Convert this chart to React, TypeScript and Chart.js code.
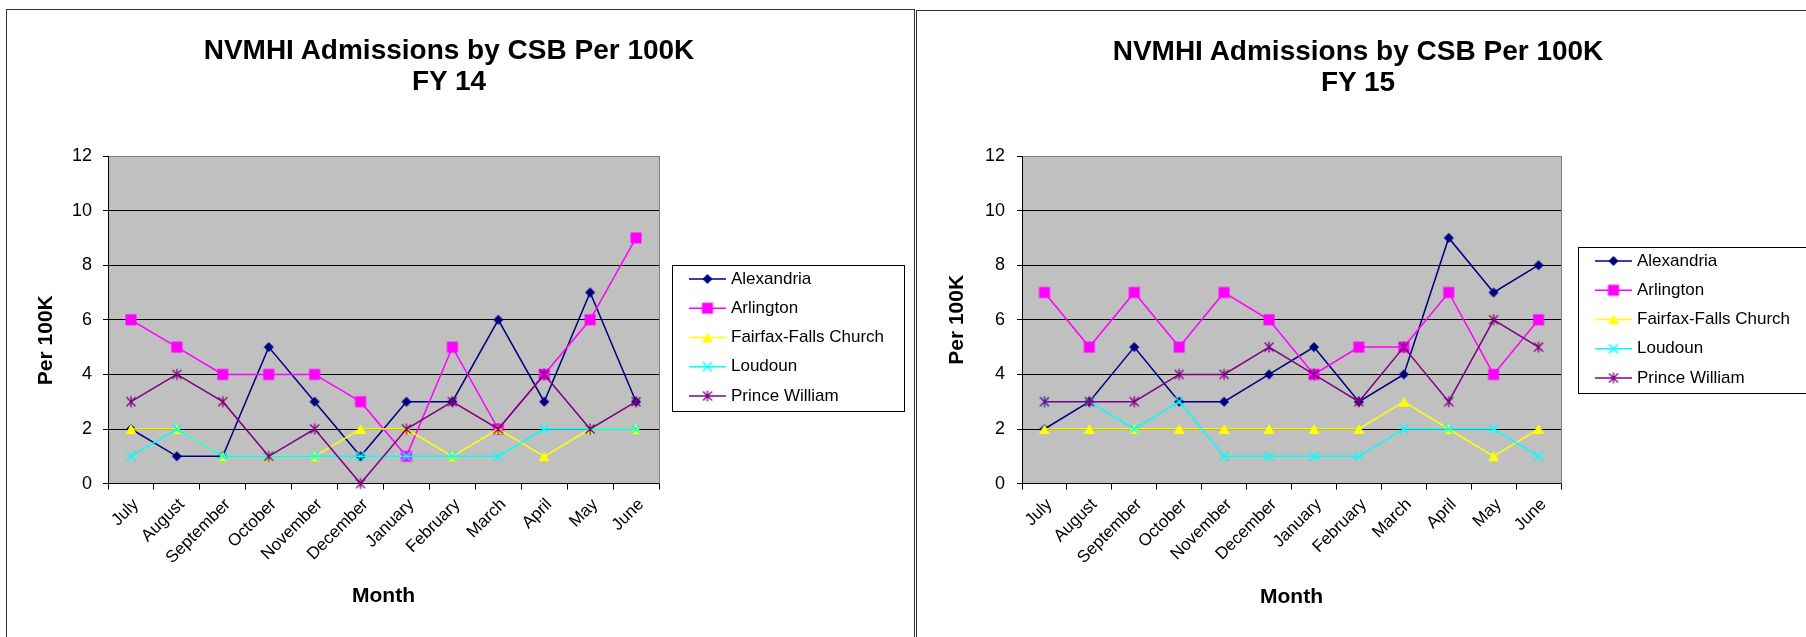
import React, { useEffect, useRef } from 'react';
import { Chart, registerables } from 'chart.js';

Chart.register(...registerables);

const months = ['July', 'August', 'September', 'October', 'November', 'December', 'January', 'February', 'March', 'April', 'May', 'June'];
const seriesNames = ['Alexandria', 'Arlington', 'Fairfax-Falls Church', 'Loudoun', 'Prince William'];
const seriesColors = ['#000080', '#FF00FF', '#FFFF00', '#00FFFF', '#800080'];
const markerShapes = ['diamond', 'square', 'triangle', 'x', 'star'];

const fy14Alexandria = [2, 1, 1, 5, 3, 1, 3, 3, 6, 3, 7, 3];
const fy14Arlington = [6, 5, 4, 4, 4, 3, 1, 5, 2, 4, 6, 9];
const fy14Fairfax = [2, 2, 1, 1, 1, 2, 2, 1, 2, 1, 2, 2];
const fy14Loudoun = [1, 2, 1, 1, 1, 1, 1, 1, 1, 2, 2, 2];
const fy14PrinceWilliam = [3, 4, 3, 1, 2, 0, 2, 3, 2, 4, 2, 3];

const fy15Alexandria = [2, 3, 5, 3, 3, 4, 5, 3, 4, 9, 7, 8];
const fy15Arlington = [7, 5, 7, 5, 7, 6, 4, 5, 5, 7, 4, 6];
const fy15Fairfax = [2, 2, 2, 2, 2, 2, 2, 2, 3, 2, 1, 2];
const fy15Loudoun = [3, 3, 2, 3, 1, 1, 1, 1, 2, 2, 2, 1];
const fy15PrinceWilliam = [3, 3, 3, 4, 4, 5, 4, 3, 5, 3, 6, 5];

const yMin = 0;
const yMax = 12;
const yStep = 2;

const titleLine1 = 'NVMHI Admissions by CSB Per 100K';
const xTitle = 'Month';
const yTitle = 'Per 100K';

const FONT = '"Liberation Sans", Arial, Helvetica, sans-serif';
Chart.defaults.font.family = FONT;

function makeMarker(shape: string, color: string): HTMLCanvasElement {
  const s = 16;
  const c = document.createElement('canvas');
  c.width = s;
  c.height = s;
  const g = c.getContext('2d')!;
  const m = s / 2;
  g.fillStyle = color;
  g.strokeStyle = color;
  g.lineWidth = 1.5;
  g.beginPath();
  if (shape === 'diamond') {
    g.moveTo(m, m - 5);
    g.lineTo(m + 5, m);
    g.lineTo(m, m + 5);
    g.lineTo(m - 5, m);
    g.closePath();
    g.fill();
  } else if (shape === 'square') {
    g.fillRect(m - 5.5, m - 5.5, 11, 11);
  } else if (shape === 'triangle') {
    g.moveTo(m, m - 5);
    g.lineTo(m + 5.5, m + 5);
    g.lineTo(m - 5.5, m + 5);
    g.closePath();
    g.fill();
  } else if (shape === 'x') {
    g.moveTo(m - 4.5, m - 4.5);
    g.lineTo(m + 4.5, m + 4.5);
    g.moveTo(m + 4.5, m - 4.5);
    g.lineTo(m - 4.5, m + 4.5);
    g.stroke();
  } else {
    g.lineWidth = 1.3;
    g.moveTo(m - 4.5, m - 4.5);
    g.lineTo(m + 4.5, m + 4.5);
    g.moveTo(m + 4.5, m - 4.5);
    g.lineTo(m - 4.5, m + 4.5);
    g.moveTo(m, m - 5.5);
    g.lineTo(m, m + 5.5);
    g.stroke();
  }
  return c;
}

const plotAreaPlugin = {
  id: 'plotArea',
  beforeDraw(chart: any) {
    const { ctx, chartArea: a } = chart;
    ctx.save();
    ctx.fillStyle = '#C0C0C0';
    ctx.fillRect(a.left, a.top, a.right - a.left, a.bottom - a.top);
    ctx.restore();
  },
  beforeDatasetsDraw(chart: any) {
    const { ctx, chartArea: a } = chart;
    ctx.save();
    ctx.strokeStyle = '#808080';
    ctx.lineWidth = 1;
    ctx.beginPath();
    const x = Math.round(a.right) + 0.5;
    ctx.moveTo(x, a.top);
    ctx.lineTo(x, a.bottom);
    ctx.stroke();
    ctx.restore();
  },
};

const boxLegendPlugin = {
  id: 'boxLegend',
  afterDraw(chart: any, _args: any, opts: any) {
    if (!opts || !opts.display) return;
    const { ctx, chartArea: a } = chart;
    const x = Math.round(a.right + opts.dx);
    const y = Math.round(opts.top);
    ctx.save();
    ctx.fillStyle = '#FFFFFF';
    ctx.fillRect(x, y, opts.width, opts.height);
    ctx.strokeStyle = '#000000';
    ctx.lineWidth = 1;
    ctx.strokeRect(x + 0.5, y + 0.5, opts.width, opts.height);
    chart.data.datasets.forEach((ds: any, i: number) => {
      const ry = y + opts.firstRow + i * opts.rowGap;
      ctx.strokeStyle = ds.borderColor;
      ctx.lineWidth = 1.5;
      ctx.beginPath();
      ctx.moveTo(x + 17, ry);
      ctx.lineTo(x + 54, ry);
      ctx.stroke();
      const img = ds.pointStyle as HTMLCanvasElement;
      ctx.drawImage(img, x + 35.5 - img.width / 2, ry - img.height / 2);
      ctx.fillStyle = '#000000';
      ctx.font = `17px ${FONT}`;
      ctx.textAlign = 'left';
      ctx.textBaseline = 'middle';
      ctx.fillText(ds.label, x + 59, ry);
    });
    ctx.restore();
  },
};

type PanelCfg = {
  series: number[][];
  width: number;
  height: number;
  padTop: number;
  padRight: number;
  yWidth: number;
  xHeight: number;
  yTitleText: string;
  yTitlePad: number;
  xTitlePad: number;
  yTickPad: number;
  legendDx: number;
  legendTop: number;
};

function ChartPanel({ cfg, style }: { cfg: PanelCfg; style: React.CSSProperties }) {
  const ref = useRef<HTMLCanvasElement | null>(null);
  useEffect(() => {
    if (!ref.current) return;
    const markers = markerShapes.map((s, i) => makeMarker(s, seriesColors[i]));
    const datasets = cfg.series.map((data, i) => ({
      label: seriesNames[i],
      data,
      borderColor: seriesColors[i],
      backgroundColor: seriesColors[i],
      borderWidth: 1.5,
      pointStyle: markers[i],
      pointRadius: 5,
      pointHoverRadius: 5,
      tension: 0,
      clip: false as any,
      order: cfg.series.length - i,
    }));
    const chart = new Chart(ref.current, {
      type: 'line',
      data: { labels: months, datasets },
      options: {
        animation: false,
        responsive: false,
        events: [],
        layout: { padding: { top: cfg.padTop, left: 0, right: cfg.padRight, bottom: 0 } },
        plugins: {
          legend: { display: false },
          title: { display: false },
          tooltip: { enabled: false },
          boxLegend: { display: true, dx: cfg.legendDx, top: cfg.legendTop, width: 232, height: 146, firstRow: 14, rowGap: 29.25 },
        } as any,
        scales: {
          x: {
            type: 'category',
            offset: true,
            grid: { drawOnChartArea: false, drawTicks: true, tickLength: 6, offset: true, color: '#000000', lineWidth: 1 },
            border: { color: '#000000', width: 1 },
            ticks: { autoSkip: false, maxRotation: 45, minRotation: 45, font: { size: 17 }, color: '#000000', padding: 5, labelOffset: 5 },
            title: { display: true, text: xTitle, font: { size: 21, weight: 'bold' }, color: '#000000', padding: { top: 0, bottom: cfg.xTitlePad } },
            afterFit: (s: any) => { s.height = cfg.xHeight; },
          },
          y: {
            min: yMin,
            max: yMax,
            ticks: { stepSize: yStep, font: { size: 18 }, color: '#000000', padding: cfg.yTickPad },
            grid: {
              color: (c: any) => (c.tick && c.tick.value === yMax ? '#808080' : '#000000'),
              tickColor: '#000000',
              tickLength: 5,
              lineWidth: 1,
            },
            border: { color: '#000000', width: 1 },
            title: { display: true, text: cfg.yTitleText, font: { size: 21, weight: 'bold' }, color: '#000000', padding: { top: cfg.yTitlePad, bottom: 0 } },
            afterFit: (s: any) => { s.width = cfg.yWidth; },
          },
        },
      },
      plugins: [plotAreaPlugin, boxLegendPlugin],
    });
    return () => chart.destroy();
  }, []);
  return <canvas ref={ref} width={cfg.width} height={cfg.height} style={{ position: 'absolute', display: 'block', width: cfg.width, height: cfg.height, ...style }} />;
}

const leftCfg: PanelCfg = {
  series: [fy14Alexandria, fy14Arlington, fy14Fairfax, fy14Loudoun, fy14PrinceWilliam],
  width: 907,
  height: 627,
  padTop: 146,
  padRight: 255,
  yWidth: 101,
  xHeight: 153.4,
  yTitleText: yTitle + '       ',
  yTitlePad: 26.4,
  xTitlePad: 27.9,
  yTickPad: 11,
  legendDx: 13,
  legendTop: 255,
};

const rightCfg: PanelCfg = {
  series: [fy15Alexandria, fy15Arlington, fy15Fairfax, fy15Loudoun, fy15PrinceWilliam],
  width: 889,
  height: 626,
  padTop: 145,
  padRight: 245,
  yWidth: 105,
  xHeight: 153.4,
  yTitleText: yTitle,
  yTitlePad: 27.4,
  xTitlePad: 27.4,
  yTickPad: 12,
  legendDx: 17,
  legendTop: 236,
};

const titleStyle: React.CSSProperties = {
  position: 'absolute',
  width: 600,
  textAlign: 'center',
  fontFamily: FONT,
  fontWeight: 'bold',
  fontSize: 28,
  lineHeight: '31px',
  color: '#000',
  whiteSpace: 'nowrap',
};

export default function App() {
  return (
    <div style={{ position: 'fixed', left: 0, top: 0, width: 1806, height: 637, overflow: 'hidden', background: '#fff' }}>
      <div style={{ position: 'absolute', left: 6, top: 9, width: 907, height: 700, border: '1px solid #333', boxSizing: 'content-box' }}>
        <ChartPanel cfg={leftCfg} style={{ left: 0, top: 0 }} />
      </div>
      <div style={{ position: 'absolute', left: 916, top: 10, width: 950, height: 700, border: '1px solid #333', boxSizing: 'content-box' }}>
        <ChartPanel cfg={rightCfg} style={{ left: 0, top: 0 }} />
      </div>
      <div style={{ ...titleStyle, left: 449 - 300, top: 34 }}>
        {titleLine1}
        <br />
        FY 14
      </div>
      <div style={{ ...titleStyle, left: 1358 - 300, top: 35 }}>
        {titleLine1}
        <br />
        FY 15
      </div>
    </div>
  );
}
